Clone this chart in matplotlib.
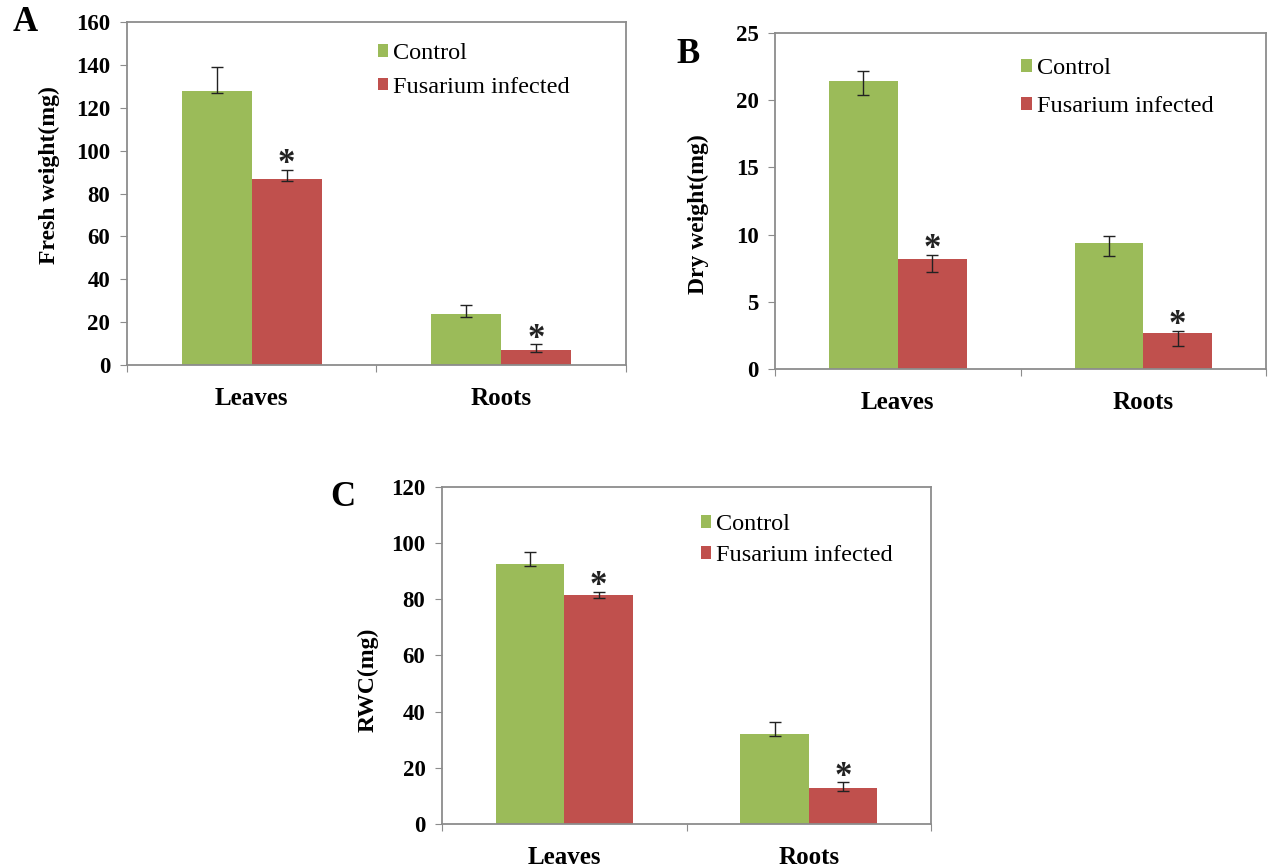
import matplotlib.pyplot as plt
import numpy as np

plt.rcParams['font.family'] = ['Liberation Serif', 'DejaVu Serif']

# --- data ---
categories = ['Leaves', 'Roots']
series = ['Control', 'Fusarium infected']

fresh_control = [128, 24]
fresh_control_lo = [1, 1.5]
fresh_control_hi = [11, 4.2]
fresh_fus = [87, 7]
fresh_fus_lo = [1, 1.1]
fresh_fus_hi = [4, 2.6]

dry_control = [21.4, 9.4]
dry_control_lo = [1.0, 1.0]
dry_control_hi = [0.8, 0.5]
dry_fus = [8.2, 2.7]
dry_fus_lo = [1.0, 1.0]
dry_fus_hi = [0.3, 0.1]

rwc_control = [92.6, 32.1]
rwc_control_lo = [0.8, 0.6]
rwc_control_hi = [4.4, 4.1]
rwc_fus = [81.6, 12.8]
rwc_fus_lo = [1.2, 0.9]
rwc_fus_hi = [0.9, 2.0]

green = '#9BBB59'
red = '#C0504D'
spine_col = '#8c8c8c'


def panel(ax, ctrl, ctrl_lo, ctrl_hi, fus, fus_lo, fus_hi, ymax, ystep,
          ylabel, label_xy, leg_xy, leg_space):
    x = np.arange(len(categories))
    w = 0.28
    ax.bar(x - w / 2, ctrl, w, color=green, label=series[0], zorder=2)
    ax.bar(x + w / 2, fus, w, color=red, label=series[1], zorder=2)
    ax.errorbar(x - w / 2, ctrl, yerr=[ctrl_lo, ctrl_hi], fmt='none',
                ecolor='#222222', elinewidth=1, capsize=4.5, capthick=1, zorder=3)
    ax.errorbar(x + w / 2, fus, yerr=[fus_lo, fus_hi], fmt='none',
                ecolor='#222222', elinewidth=1, capsize=4.5, capthick=1, zorder=3)
    # significance marks
    for xi, v, h in zip(x + w / 2, fus, fus_hi):
        ax.annotate('*', (xi, v + h), xytext=(0, -8), textcoords='offset points',
                    ha='center', va='bottom', fontsize=25, fontweight='bold',
                    color='#222222')

    ax.set_xlim(-0.5, 1.5)
    ax.set_ylim(0, ymax)
    ax.set_yticks(np.arange(0, ymax + 0.1, ystep))
    ax.set_xticks([-0.5, 0.5, 1.5])
    ax.set_xticklabels([])
    ax.set_xticks([0, 1], minor=True)
    ax.set_xticklabels(categories, minor=True, fontsize=18, fontweight='bold')
    ax.tick_params(axis='x', which='minor', length=0, pad=16)
    ax.tick_params(axis='x', which='major', length=5, direction='out',
                   color=spine_col)
    ax.tick_params(axis='y', length=5, direction='out', color=spine_col,
                   labelsize=16.5, pad=7)
    for lab in ax.get_yticklabels():
        lab.set_fontweight('bold')
    for s in ax.spines.values():
        s.set_color(spine_col)
        s.set_linewidth(1.3)
    ax.set_ylabel(ylabel, fontsize=17, fontweight='bold')
    ax.yaxis.set_label_coords(*label_xy)
    ax.legend(loc='upper left', bbox_to_anchor=leg_xy, frameon=False,
              fontsize=17.5, handlelength=0.42, handleheight=0.42,
              handletextpad=0.2, labelspacing=leg_space, borderaxespad=0)


fig = plt.figure(figsize=(12.71, 8.67), dpi=100)

axA = fig.add_axes([0.0999, 0.579, 0.3926, 0.3956])
axB = fig.add_axes([0.6098, 0.5744, 0.3863, 0.3875])
axC = fig.add_axes([0.3478, 0.0496, 0.3847, 0.3887])

panel(axA, fresh_control, fresh_control_lo, fresh_control_hi,
      fresh_fus, fresh_fus_lo, fresh_fus_hi, 160, 20, 'Fresh weight(mg)',
      (-0.134, 0.554), (0.484, 0.966), 0.5)
panel(axB, dry_control, dry_control_lo, dry_control_hi,
      dry_fus, dry_fus_lo, dry_fus_hi, 25, 5, 'Dry weight(mg)',
      (-0.134, 0.461), (0.482, 0.954), 0.7)
panel(axC, rwc_control, rwc_control_lo, rwc_control_hi,
      rwc_fus, rwc_fus_lo, rwc_fus_hi, 120, 20, 'RWC(mg)',
      (-0.129, 0.427), (0.51, 0.948), 0.42)

fig.text(0.0197, 0.9735, 'A', fontsize=25, fontweight='bold', ha='center', va='center')
fig.text(0.5413, 0.9366, 'B', fontsize=25, fontweight='bold', ha='center', va='center')
fig.text(0.27, 0.4267, 'C', fontsize=25, fontweight='bold', ha='center', va='center')

fig.savefig('out.png', dpi=100)
